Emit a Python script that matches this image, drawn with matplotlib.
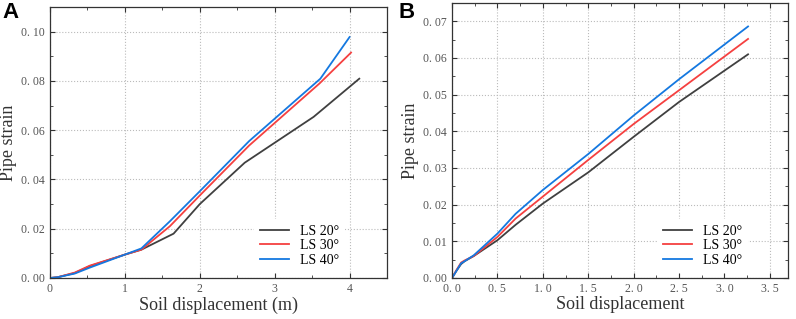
import matplotlib
matplotlib.use("Agg")
import matplotlib.pyplot as plt
from matplotlib.ticker import MultipleLocator, FuncFormatter

# panel A data
a_x20 = [0, 0.1, 0.33, 0.53, 1.0, 1.22, 1.65, 2.0, 2.6, 3.52, 4.13]
a_y20 = [0, 0.0003, 0.002, 0.0048, 0.0095, 0.0115, 0.018, 0.030, 0.0468, 0.0654, 0.0809]
a_x30 = [0, 0.1, 0.33, 0.53, 1.0, 1.22, 1.6, 2.0, 2.66, 3.6, 4.02]
a_y30 = [0, 0.0003, 0.0022, 0.005, 0.0095, 0.0115, 0.021, 0.0335, 0.0538, 0.079, 0.0915]
a_x40 = [0, 0.1, 0.33, 0.53, 1.0, 1.22, 1.6, 2.0, 2.66, 3.61, 4.0]
a_y40 = [0, 0.0003, 0.0018, 0.0042, 0.0095, 0.012, 0.023, 0.0352, 0.0556, 0.0809, 0.0978]

# panel B data
b_x = [0, 0.05, 0.1, 0.14, 0.24, 0.5, 0.7, 1.0, 1.5, 2.0, 2.5, 3.26]
b_y20 = [0, 0.002, 0.0038, 0.0046, 0.006, 0.0103, 0.0145, 0.0203, 0.0288, 0.0385, 0.048, 0.061]
b_y30 = [0, 0.0022, 0.0042, 0.0048, 0.006, 0.0112, 0.0162, 0.0222, 0.0322, 0.042, 0.0512, 0.0652]
b_y40 = [0, 0.002, 0.004, 0.0046, 0.0062, 0.0121, 0.0175, 0.024, 0.0338, 0.0443, 0.0542, 0.0686]

labels = ["LS 20°", "LS 30°", "LS 40°"]
colors = ["#404040", "#f54040", "#1478e0"]

plt.rcParams['font.family'] = ['Liberation Serif', 'DejaVu Serif']

fig = plt.figure(figsize=(7.96, 3.19), dpi=100)
axA = fig.add_axes([50/796, 1-278/319, 337/796, 271/319])
axB = fig.add_axes([452/796, 1-278/319, 336/796, 275/319])

def style(ax):
    for s in ax.spines.values():
        s.set_color("#333333")
        s.set_linewidth(0.9)
    ax.tick_params(which='both', direction='in', top=True, right=True,
                   colors="#333333", labelcolor="#555555", labelsize=8.5)
    ax.tick_params(which='major', length=3.5)
    ax.tick_params(which='minor', length=2)
    ax.grid(True, which='major', linestyle=':', color='#bbbbbb', linewidth=0.8)
    ax.set_axisbelow(True)

def legend(ax, x0):
    ax.legend(loc='lower left', bbox_to_anchor=(x0, 0.02), borderaxespad=0,
              frameon=True, edgecolor='none', framealpha=1, fontsize=10,
              handlelength=2.1, labelspacing=0.12, handletextpad=0.8)

fmt2 = FuncFormatter(lambda v, p: ("%.2f" % v).replace(".", ". "))
fmt1 = FuncFormatter(lambda v, p: ("%.1f" % v).replace(".", ". "))

# A
for xs, ys, lab, c in zip([a_x20, a_x30, a_x40], [a_y20, a_y30, a_y40], labels, colors):
    axA.plot(xs, ys, color=c, lw=1.3, label=lab)
axA.set_xlim(0, 4.5)
axA.set_ylim(0, 0.11)
axA.xaxis.set_major_locator(MultipleLocator(1))
axA.xaxis.set_minor_locator(MultipleLocator(0.5))
axA.yaxis.set_major_locator(MultipleLocator(0.02))
axA.yaxis.set_minor_locator(MultipleLocator(0.01))
axA.yaxis.set_major_formatter(fmt2)
style(axA)
axA.set_xlabel("Soil displacement (m)", fontsize=13, color="#333333", labelpad=1)
axA.set_ylabel("Pipe strain", fontsize=13, color="#333333", labelpad=3)
legend(axA, 0.606)

# B
for ys, lab, c in zip([b_y20, b_y30, b_y40], labels, colors):
    axB.plot(b_x, ys, color=c, lw=1.3, label=lab)
axB.set_xlim(0, 3.7)
axB.set_ylim(0, 0.075)
axB.xaxis.set_major_locator(MultipleLocator(0.5))
axB.xaxis.set_minor_locator(MultipleLocator(0.25))
axB.yaxis.set_major_locator(MultipleLocator(0.01))
axB.yaxis.set_minor_locator(MultipleLocator(0.005))
axB.xaxis.set_major_formatter(fmt1)
axB.yaxis.set_major_formatter(fmt2)
style(axB)
axB.set_xlabel("Soil displacement", fontsize=13, color="#333333", labelpad=1)
axB.set_ylabel("Pipe strain", fontsize=13, color="#333333", labelpad=3)
legend(axB, 0.611)

fig.text(2/796, 1-2/319, "A", fontsize=16, fontweight='bold', family='Liberation Sans', va='top')
fig.text(398/796, 1-2/319, "B", fontsize=16, fontweight='bold', family='Liberation Sans', va='top')

fig.savefig("out.png", dpi=100)
